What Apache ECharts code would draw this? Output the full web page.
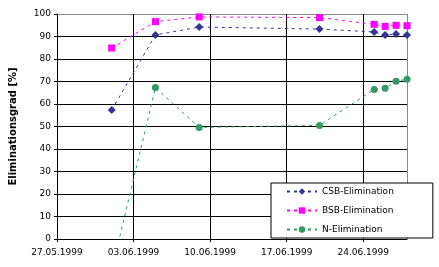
<!DOCTYPE html>
<html><head><meta charset="utf-8">
<script src="https://cdn.jsdelivr.net/npm/echarts@6/dist/echarts.min.js"></script>
<style>html,body{margin:0;padding:0;background:#fff}#c{width:439px;height:267px}</style>
</head><body><div id="c"></div>
<script>
const dates = ['01.06.1999','05.06.1999','09.06.1999','20.06.1999','25.06.1999','26.06.1999','27.06.1999','28.06.1999'];
const csb = [57.3, 90.7, 94.2, 93.3, 92.0, 90.7, 91.1, 90.7];
const bsb = [84.9, 96.6, 98.7, 98.4, 95.4, 94.5, 95.0, 94.8];
const nElim = [-14, 67.3, 49.6, 50.5, 66.5, 67.0, 70.1, 71.0];
const xTickLabels = ['27.05.1999','03.06.1999','10.06.1999','17.06.1999','24.06.1999'];
const seriesNames = ['CSB-Elimination','BSB-Elimination','N-Elimination'];

function dayOffset(s){
  const p = s.split('.');
  const t = Date.UTC(+p[2], +p[1]-1, +p[0]);
  return Math.round((t - Date.UTC(1999,4,27)) / 86400000);
}
function pairs(vals){ return dates.map((d,i)=>[dayOffset(d), vals[i]]); }

const font = 'DejaVu Sans';
const chart = echarts.init(document.getElementById('c'), null, {renderer:'canvas'});
const mk = (name, vals, color, symbol, size) => ({
  name, type:'line', data: pairs(vals), symbol, symbolSize: size,
  itemStyle:{color}, lineStyle:{color, width:1, type:[3,4]}, clip:true, animation:false
});
chart.setOption({
  animation:false,
  grid:{left:54, top:14, right:32, bottom:28, show:false},
  xAxis:{type:'value', min:0, max:32, interval:7,
    axisLine:{show:true, lineStyle:{color:'#000', width:1}},
    axisTick:{show:true, length:3, lineStyle:{color:'#000'}},
    axisLabel:{color:'#000', fontFamily:font, fontSize:9, margin:9, showMaxLabel:false,
      formatter:v => (v % 7 === 0 && xTickLabels[v/7]) ? xTickLabels[v/7] : ''},
    splitLine:{show:true, lineStyle:{color:['#000','#000','#000','#000','#000','#888'], width:1}}
  },
  yAxis:{type:'value', min:0, max:100, interval:10,
    name:'Eliminationsgrad [%]', nameLocation:'middle', nameGap:39,
    nameTextStyle:{fontFamily:font, fontSize:10, fontWeight:'bold', color:'#000'},
    axisLine:{show:true, lineStyle:{color:'#000', width:1}},
    axisTick:{show:true, length:3, lineStyle:{color:'#000'}},
    axisLabel:{color:'#000', fontFamily:font, fontSize:9, margin:6},
    splitLine:{show:true, lineStyle:{color:['#000','#000','#000','#000','#000','#000','#000','#000','#000','#000','#888'], width:1}}
  },
  legend:{orient:'vertical', left:271, top:183, data:seriesNames,
    backgroundColor:'#fff', borderColor:'#000', borderWidth:1,
    padding:[4,39,4,15], itemWidth:30, itemHeight:8, itemGap:10,
    textStyle:{fontFamily:font, fontSize:9, color:'#000'}},
  series:[
    mk(seriesNames[0], csb, '#333399', 'diamond', 8),
    mk(seriesNames[1], bsb, '#ff00ff', 'rect', 7),
    mk(seriesNames[2], nElim, '#339966', 'circle', 7)
  ]
});
</script></body></html>
